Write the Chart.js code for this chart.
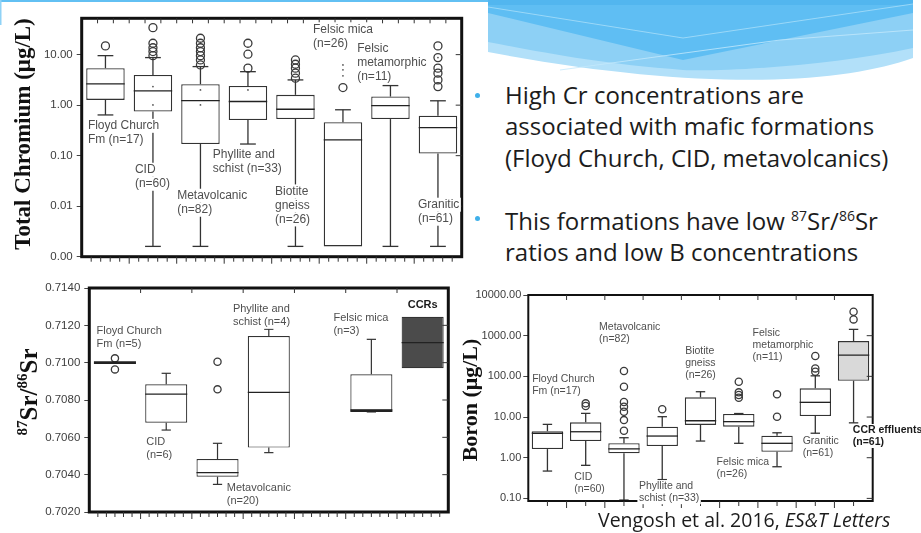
<!DOCTYPE html>
<html>
<head>
<meta charset="utf-8">
<script src="https://cdn.jsdelivr.net/npm/chart.js@4.4.0/dist/chart.umd.min.js"></script>
<style>
  html, body { margin: 0; padding: 0; background: #fff; }
  body { width: 921px; height: 533px; position: relative; overflow: hidden; font-family: "Open Sans", sans-serif; }
  canvas { position: absolute; display: block; }
  #deco { position: absolute; left: 0; top: 0; }
  .blk { position: absolute; left: 505px; font-size: 24px; line-height: 31.3px; color: #1c1c1c; white-space: nowrap; }
  .blk sup { font-size: 14px; vertical-align: 9px; line-height: 0; }
  .dot { position: absolute; width: 5px; height: 5px; border-radius: 50%; background: #3fb0ea; }
  #cite { position: absolute; left: 598px; top: 510px; font-size: 19.5px; line-height: 20px; color: #1c1c1c; white-space: nowrap; }
</style>
</head>
<body>
<svg id="deco" width="921" height="100" viewBox="0 0 921 100">
  <rect x="0" y="0" width="488" height="2" fill="#62c0f3"/>
  <rect x="0" y="0" width="1.5" height="25" fill="#8fd2f6"/>
  <path d="M488,0 H913 V58 C 840,84 700,92 488,52 Z" fill="#b2e0f9"/>
  <path d="M488,0 H913 V48 C 830,66 720,72 683,70 C 600,64 540,52 488,42 Z" fill="#8dd0f5"/>
  <path d="M488,0 H913 V13 L683,60 L488,13 Z" fill="#5fbef3"/>
  <rect x="488" y="0" width="425" height="5" fill="#52b6ef"/>
  <path d="M488,7 L683,38 L913,4" stroke="#a9def9" stroke-width="0.8" fill="none"/>
  <path d="M560,70 L780,40 L913,30" stroke="#c4e8fb" stroke-width="0.8" fill="none"/>
</svg>

<canvas id="crChart" width="470" height="268" style="left:0;top:0"></canvas>
<canvas id="srChart" width="455" height="263" style="left:0;top:270px"></canvas>
<canvas id="bChart" width="471" height="253" style="left:450px;top:280px"></canvas>

<div class="dot" style="left:475px;top:93px"></div>
<div class="blk" style="top:79px">High Cr concentrations are<br>associated with mafic formations<br>(Floyd Church, CID, metavolcanics)</div>
<div class="dot" style="left:475px;top:216px"></div>
<div class="blk" style="top:205px">This formations have low <sup>87</sup>Sr/<sup>86</sup>Sr<br>ratios and low B concentrations</div>
<div id="cite">Vengosh et al. 2016, <i>ES&amp;T Letters</i></div>

<script>
// ---- Total chromium (µg/L) by geologic unit ----
const crUnits = ['Floyd Church Fm', 'CID', 'Metavolcanic', 'Phyllite and schist', 'Biotite gneiss', 'Felsic mica', 'Felsic metamorphic', 'Granitic'];
const crMin    = [0.64, 0.0016, 0.0016, 0.17, 0.0016, null, 0.0016, 0.0016];
const crQ1     = [1.27, 0.75, 0.17, 0.51, 0.53, 0.0016, 0.53, 0.11];
const crMedian = [2.64, 1.92, 1.23, 1.18, 0.83, 0.206, 0.98, 0.36];
const crQ3     = [5.4, 3.97, 2.6, 2.4, 1.6, 0.46, 1.48, 0.62];
const crMax    = [9.55, 8.74, 5.8, 4.6, 3.16, 0.81, 2.44, 1.22];
const crOutliers = [[14.9], [34.2, 16.8, 13.7, 11.5, 9.55], [21.1, 16.8, 13.7, 11.5, 9.55, 7.85, 6.26], [16.8, 10.2, 5.4],
                    [7.85, 6.45, 5.4, 4.3, 3.42], [2.23], [], [14.9, 8.74, 5.4, 4.3, 3.16, 2.33]];
const crDots   = [[], [2.33, 1.01], [2.0, 1.01], [2.0], [], [6.26, 5.0, 3.8], [], [8.74]];
const crTicks  = [0.001, 0.01, 0.1, 1, 10];

// ---- 87Sr/86Sr by geologic unit ----
const srUnits  = ['Floyd Church Fm', 'CID', 'Metavolcanic', 'Phyllite and schist', '', 'Felsic mica', 'CCRs'];
const srMin    = [null, 0.70639, 0.70348, 0.70518, null, 0.70736, null];
const srQ1     = [null, 0.70678, 0.70389, 0.70545, null, 0.70743, 0.7097];
const srMedian = [0.7100, 0.70832, 0.70411, 0.70841, null, 0.70743, 0.71107];
const srQ3     = [null, 0.70884, 0.70484, 0.71143, null, 0.70938, 0.71246];
const srMax    = [null, 0.70943, 0.70568, 0.71179, null, 0.71125, null];
const srOutliers = [[0.71023, 0.70964], [], [0.71005, 0.70857], [], [], [], []];
const srTicks  = [0.702, 0.704, 0.706, 0.708, 0.710, 0.712, 0.714];

// ---- Boron (µg/L) by geologic unit ----
const bUnits   = ['Floyd Church Fm', 'CID', 'Metavolcanic', 'Phyllite and schist', 'Biotite gneiss', 'Felsic mica', 'Felsic metamorphic', 'Granitic', 'CCR effluents'];
const bMin     = [0.47, 0.65, 0.091, 0.29, 2.57, 2.26, 0.6, 4.0, 7.2];
const bQ1      = [1.63, 2.57, 1.28, 1.94, 6.4, 5.8, 1.4, 10.6, 78];
const bMedian  = [4.0, 4.35, 1.65, 3.41, 8.1, 7.7, 2.26, 23, 334];
const bQ3      = [4.5, 7.4, 2.26, 5.8, 30.5, 11.9, 3.47, 50.7, 736];
const bMax     = [6.6, 12.3, 3.1, 10.2, 41.9, 12.2, 4.1, 103, 1429];
const bOutliers = [[], [21.7, 18.7], [135, 55.6, 23.4, 17.9, 13.5, 8.4, 4.6], [15.5], [], [73.6, 40.5, 34.8, 29.7],
                   [36.1, 10.2], [316, 157, 130], [3860, 2510]];
const bTicks   = [0.1, 1, 10, 100, 1000, 10000];

// Unit annotations: category position (fractional index), value, text lines
const crNotes = [
  { c: -0.37, v: 0.39,   lines: ['Floyd Church', 'Fm (n=17)'] },
  { c: 0.62,  v: 0.0526, lines: ['CID', '(n=60)'] },
  { c: 1.51,  v: 0.0161, lines: ['Metavolcanic', '(n=82)'] },
  { c: 2.26,  v: 0.104,  lines: ['Phyllite and', 'schist (n=33)'] },
  { c: 3.57,  v: 0.0196, lines: ['Biotite', 'gneiss', '(n=26)'] },
  { c: 4.37,  v: 31.8,   lines: ['Felsic mica', '(n=26)'] },
  { c: 5.30,  v: 13.4,   lines: ['Felsic', 'metamorphic', '(n=11)'] },
  { c: 6.58,  v: 0.0107, lines: ['Granitic', '(n=61)'] }
];
const srNotes = [
  { c: -0.36, v: 0.7117,  lines: ['Floyd Church', 'Fm (n=5)'] },
  { c: 0.61,  v: 0.70577, lines: ['CID', '(n=6)'] },
  { c: 2.18,  v: 0.70327, lines: ['Metavolcanic', '(n=20)'] },
  { c: 2.30,  v: 0.71287, lines: ['Phyllite and', 'schist (n=4)'] },
  { c: 4.26,  v: 0.71238, lines: ['Felsic mica', '(n=3)'] },
  { c: 6,     v: 0.71309, lines: ['CCRs'], bold: true, align: 'center' }
];
const bNotes = [
  { c: -0.40, v: 85.9,  lines: ['Floyd Church', 'Fm (n=17)'] },
  { c: 0.70,  v: 0.33,  lines: ['CID', '(n=60)'] },
  { c: 1.35,  v: 1655,  lines: ['Metavolcanic', '(n=82)'] },
  { c: 2.39,  v: 0.2,   lines: ['Phyllite and', 'schist (n=33)'] },
  { c: 3.60,  v: 425,   lines: ['Biotite', 'gneiss', '(n=26)'] },
  { c: 4.42,  v: 0.80,  lines: ['Felsic mica', '(n=26)'] },
  { c: 5.36,  v: 1138,  lines: ['Felsic', 'metamorphic', '(n=11)'] },
  { c: 6.67,  v: 2.62,  lines: ['Granitic', '(n=61)'] },
  { c: 7.98,  v: 4.8,   lines: ['CCR effluents', '(n=61)'], bold: true }
];

const SANS = '"Liberation Sans", Arial, sans-serif';
const SERIF = '"Liberation Serif", "Times New Roman", serif';

// Whiskers, medians, frame, annotations and the rotated axis title
const boxPlot = {
  id: 'boxPlot',
  afterDatasetsDraw(chart, args, o) {
    const { ctx, chartArea: a } = chart;
    const xs = chart.scales.x, ys = chart.scales.y;
    const n = xs.getLabels().length;
    const catW = a.width / n;
    const half = catW * o.boxFrac / 2;
    const capHalf = half * o.capFrac;
    const seg = (x1, y1, x2, y2) => { ctx.beginPath(); ctx.moveTo(x1, y1); ctx.lineTo(x2, y2); ctx.stroke(); };
    ctx.save();
    ctx.strokeStyle = o.ink;
    ctx.lineWidth = o.lw;
    o.med.forEach((m, i) => {
      const cx = xs.getPixelForValue(i);
      const q1 = o.q1[i], q3 = o.q3[i];
      if (o.max[i] != null && q3 != null) {
        const yt = ys.getPixelForValue(o.max[i]);
        seg(cx, ys.getPixelForValue(q3), cx, yt);
        seg(cx - capHalf, yt, cx + capHalf, yt);
      }
      if (o.min[i] != null && q1 != null) {
        const yb = ys.getPixelForValue(o.min[i]);
        seg(cx, ys.getPixelForValue(q1), cx, yb);
        seg(cx - capHalf, yb, cx + capHalf, yb);
      }
      if (m != null) {
        const ym = ys.getPixelForValue(m);
        const flush = q1 == null || Math.abs(m - q1) < 1e-7 || Math.abs(m - q3) < 1e-7;
        ctx.lineWidth = flush ? o.lw * 2.2 : o.lw;
        ctx.strokeStyle = o.medInk;
        seg(cx - half, ym, cx + half, ym);
        ctx.lineWidth = o.lw;
        ctx.strokeStyle = o.ink;
      }
    });

    // plot frame with tick marks
    ctx.strokeStyle = '#111';
    ctx.lineWidth = o.frameW;
    ctx.strokeRect(a.left, a.top, a.width, a.height);
    ctx.lineWidth = 1;
    ctx.strokeStyle = '#333';
    for (let k = 1; k < n * o.topDiv; k++) {
      const x = a.left + k * catW / o.topDiv;
      seg(x, a.top, x, a.top + o.tickLen);
    }
    for (let k = 1; k < n * o.botDiv; k++) {
      const x = a.left + k * catW / o.botDiv;
      const len = (k % o.botDiv === 0) ? o.tickLen + 2 : o.tickLen;
      seg(x, a.bottom, x, a.bottom + len);
    }
    o.yTicks.forEach(v => {
      const y = ys.getPixelForValue(v);
      if (y > a.top + 2 && y < a.bottom - 2) seg(a.right, y, a.right - o.tickLen - 1, y);
    });

    // unit annotations on a white ground that masks the lines behind them
    ctx.textBaseline = 'middle';
    o.notes.forEach(nt => {
      ctx.font = (nt.bold ? 'bold ' : '') + o.noteSize + 'px ' + SANS;
      const align = nt.align || 'left';
      ctx.textAlign = align;
      const x = xs.getPixelForValue(nt.c);
      const y = ys.getPixelForValue(nt.v);
      nt.lines.forEach((t, j) => {
        const w = ctx.measureText(t).width;
        const x0 = align === 'center' ? x - w / 2 : x;
        ctx.fillStyle = '#ffffff';
        ctx.fillRect(x0 - 1.5, y + j * o.lineH - o.lineH / 2, w + 3, o.lineH);
      });
      ctx.fillStyle = nt.bold ? '#1a1a1a' : '#4f4f4f';
      nt.lines.forEach((t, j) => ctx.fillText(t, x, y + j * o.lineH));
    });

    // rotated y-axis title (supports superscript parts)
    const t = o.title;
    ctx.translate(t.x, t.y);
    ctx.rotate(-Math.PI / 2);
    ctx.fillStyle = '#111';
    ctx.textAlign = 'left';
    ctx.textBaseline = 'alphabetic';
    const fontOf = p => 'bold ' + (p.sup ? t.supSize : t.size) + 'px ' + SERIF;
    let total = 0;
    t.parts.forEach(p => { ctx.font = fontOf(p); p.w = ctx.measureText(p.t).width; total += p.w; });
    let xx = -total / 2;
    const base = t.size * 0.33;
    t.parts.forEach(p => {
      ctx.font = fontOf(p);
      ctx.fillText(p.t, xx, base - (p.sup ? t.size * 0.42 : 0));
      xx += p.w;
    });
    ctx.restore();
  }
};

function boxChart(id, s) {
  const bodies = s.q1.map((v, i) => (v == null || s.q3[i] == null) ? null : [v, s.q3[i]]);
  const outPts = [];
  s.outliers.forEach((arr, i) => arr.forEach(v => outPts.push({ x: s.units[i], y: v })));
  const dotPts = [];
  (s.dots || []).forEach((arr, i) => arr.forEach(v => dotPts.push({ x: s.units[i], y: v })));
  return new Chart(document.getElementById(id), {
    type: 'bar',
    data: {
      labels: s.units,
      datasets: [
        { type: 'bar', data: bodies, backgroundColor: s.fill, borderColor: '#333', borderWidth: s.lw,
          borderSkipped: false, barPercentage: s.boxFrac, categoryPercentage: 1, order: 3 },
        { type: 'scatter', data: outPts, pointStyle: 'circle', pointRadius: s.r, borderColor: '#3a3a3a',
          backgroundColor: 'rgba(255,255,255,0)', borderWidth: 1.3, order: 2 },
        { type: 'scatter', data: dotPts, pointStyle: 'circle', pointRadius: 0.9, backgroundColor: '#555',
          borderWidth: 0, order: 1 }
      ]
    },
    options: {
      responsive: false,
      animation: false,
      events: [],
      layout: { padding: { left: 0, top: s.pad[0], right: s.pad[1], bottom: s.pad[2] } },
      plugins: {
        legend: { display: false },
        tooltip: { enabled: false },
        boxPlot: {
          q1: s.q1, q3: s.q3, med: s.median, min: s.min, max: s.max,
          boxFrac: s.boxFrac, capFrac: s.capFrac, ink: '#333', medInk: '#222', lw: s.lw,
          frameW: s.frameW, topDiv: s.topDiv, botDiv: s.botDiv, tickLen: 5, yTicks: s.ticks,
          notes: s.notes, noteSize: s.noteSize, lineH: s.lineH, title: s.title
        }
      },
      scales: {
        x: { type: 'category', display: false, offset: true, grid: { display: false } },
        y: {
          type: s.log ? 'logarithmic' : 'linear',
          min: s.yMin, max: s.yMax,
          afterBuildTicks: sc => { sc.ticks = s.ticks.map(v => ({ value: v })); },
          afterFit: sc => { sc.width = s.axisW; },
          ticks: {
            autoSkip: false,
            callback: v => Number(v).toFixed(s.dec),
            font: { family: SANS, size: s.tickSize },
            color: '#3d3d3d',
            padding: s.tickPad
          },
          grid: { display: true, drawOnChartArea: false, drawTicks: true, tickLength: 5, color: '#444', lineWidth: 1 },
          border: { display: false }
        }
      }
    },
    plugins: [boxPlot]
  });
}

boxChart('crChart', {
  units: crUnits, min: crMin, q1: crQ1, median: crMedian, q3: crQ3, max: crMax,
  outliers: crOutliers, dots: crDots, ticks: crTicks, notes: crNotes,
  fill: crUnits.map(() => '#ffffff'),
  log: true, yMin: 0.001, yMax: 52.4, dec: 2,
  pad: [18.3, 8.3, 11.3], axisW: 81.7, tickSize: 11.5, tickPad: 4,
  boxFrac: 0.81, capFrac: 0.41, lw: 1.3, r: 4, frameW: 3, topDiv: 3, botDiv: 5,
  noteSize: 12, lineH: 14,
  title: { x: 22, y: 134, size: 23, supSize: 14, parts: [{ t: 'Total Chromium (μg/L)' }] }
});

boxChart('srChart', {
  units: srUnits, min: srMin, q1: srQ1, median: srMedian, q3: srQ3, max: srMax,
  outliers: srOutliers, ticks: srTicks, notes: srNotes,
  fill: srUnits.map(u => u === 'CCRs' ? '#4b4b4b' : '#ffffff'),
  log: false, yMin: 0.702, yMax: 0.714, dec: 4,
  pad: [18, 6.7, 21], axisW: 89.3, tickSize: 11.5, tickPad: 4,
  boxFrac: 0.82, capFrac: 0.22, lw: 1.2, r: 3.6, frameW: 3, topDiv: 1, botDiv: 6,
  noteSize: 11, lineH: 13,
  title: { x: 29, y: 122, size: 25, supSize: 15,
           parts: [{ t: '87', sup: true }, { t: 'Sr' }, { t: '/' }, { t: '86', sup: true }, { t: 'Sr' }] }
});

boxChart('bChart', {
  units: bUnits, min: bMin, q1: bQ1, median: bMedian, q3: bQ3, max: bMax,
  outliers: bOutliers, ticks: bTicks, notes: bNotes,
  fill: bUnits.map(u => u === 'CCR effluents' ? '#d9d9d9' : '#ffffff'),
  log: true, yMin: 0.0863, yMax: 10000, dec: 2,
  pad: [15, 48.3, 32], axisW: 78.3, tickSize: 11, tickPad: 2,
  boxFrac: 0.82, capFrac: 0.3, lw: 1.3, r: 3.6, frameW: 2, topDiv: 1, botDiv: 2,
  noteSize: 10.5, lineH: 12,
  title: { x: 20, y: 120, size: 22, supSize: 13, parts: [{ t: 'Boron (μg/L)' }] }
});
</script>
</body>
</html>
